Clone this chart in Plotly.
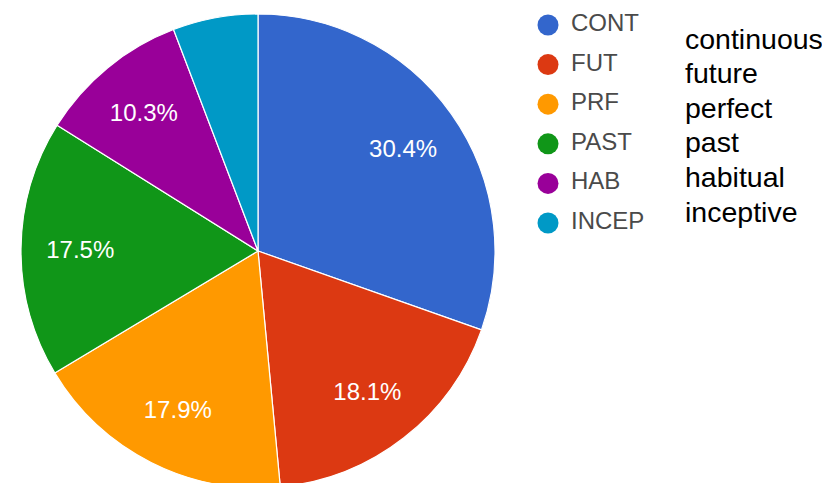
import plotly.graph_objects as go

categories = ["CONT", "FUT", "PRF", "PAST", "HAB", "INCEP"]
values = [30.4, 18.1, 17.9, 17.5, 10.3, 5.8]
descriptions = ["continuous", "future", "perfect", "past", "habitual", "inceptive"]
colors = ["#3366cc", "#dc3912", "#ff9900", "#109618", "#990099", "#0099c6"]

# page body has an 8px margin; the pie is cut by the bottom of the window
W, H = 822, 485
FONT = "Arial, 'Liberation Sans', sans-serif"

total = sum(values)
templates = ["%{percent:.1%}" if v / total >= 0.08 else "" for v in values]

pie_domain = dict(x=[13 / W, 487 / W], y=[1 - 480 / H, 1 - 6 / H])

fig = go.Figure()

fig.add_trace(go.Pie(
    labels=categories, values=values, sort=False, direction="clockwise", rotation=0,
    marker=dict(colors=colors, line=dict(color="white", width=1.2)),
    textinfo="none", showlegend=False, domain=pie_domain, hoverinfo="label+percent",
))

# transparent ring that positions the percentage labels at ~3/4 of the radius
fig.add_trace(go.Pie(
    labels=categories, values=values, sort=False, direction="clockwise", rotation=0,
    hole=0.5,
    marker=dict(colors=["rgba(0,0,0,0)"] * len(values), line=dict(width=0)),
    texttemplate=templates, textposition="inside", insidetextorientation="horizontal",
    insidetextfont=dict(color="white", size=24, family=FONT),
    showlegend=False, domain=pie_domain, hoverinfo="skip",
))

rows = list(range(len(categories)))

# legend: circle markers
fig.add_trace(go.Scatter(
    x=[0] * len(categories), y=rows,
    mode="markers", marker=dict(color=colors, size=21, symbol="circle"),
    showlegend=False, hoverinfo="skip", cliponaxis=False,
))
# legend: labels
fig.add_trace(go.Scatter(
    x=[1.15] * len(categories), y=rows,
    mode="text", text=categories, textposition="middle right",
    textfont=dict(color="#4a4a4a", size=24, family=FONT),
    showlegend=False, hoverinfo="skip", cliponaxis=False,
))
# description column
fig.add_trace(go.Scatter(
    x=[0] * len(descriptions), y=list(range(len(descriptions))),
    mode="text", text=descriptions, textposition="middle right",
    textfont=dict(color="black", size=28.5, family=FONT),
    showlegend=False, hoverinfo="skip", cliponaxis=False,
    xaxis="x2", yaxis="y2",
))

fig.update_layout(
    width=W, height=H,
    margin=dict(l=0, r=0, t=0, b=0),
    paper_bgcolor="white", plot_bgcolor="rgba(0,0,0,0)",
    xaxis=dict(domain=[530 / W, 670 / W], range=[-0.5, 6.5], visible=False, fixedrange=True),
    yaxis=dict(domain=[1 - 222.92 / H, 1 - 9.08 / H], range=[5.2, -0.2], visible=False, fixedrange=True),
    xaxis2=dict(domain=[667 / W, 807 / W], range=[-0.5, 6.5], visible=False, fixedrange=True),
    yaxis2=dict(domain=[1 - 213.42 / H, 1 - 26.58 / H], range=[5.2, -0.2], visible=False, fixedrange=True),
)

fig.write_html("out.html")
